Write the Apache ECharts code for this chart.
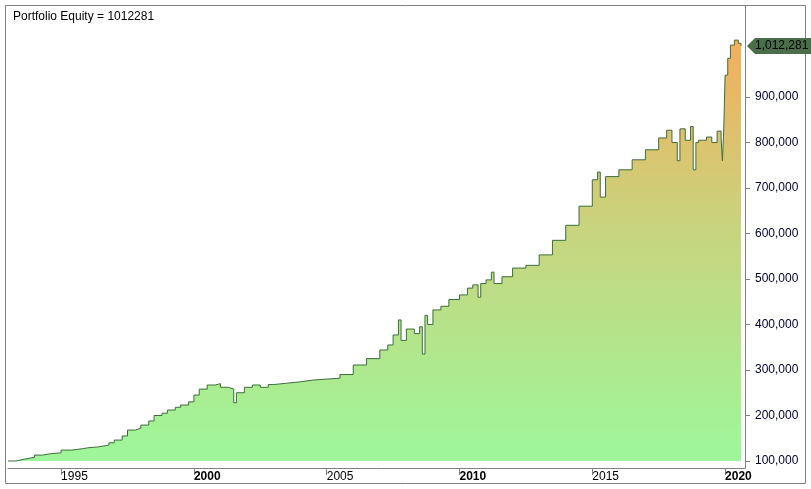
<!DOCTYPE html><html><head><meta charset="utf-8">
<script src="https://cdn.jsdelivr.net/npm/echarts@6/dist/echarts.min.js"></script>
<style>html,body{margin:0;padding:0;background:#fff}#c{width:811px;height:489px}</style></head><body><div id="c"></div>
<script>
const years = [1993.0,1993.3,1993.6,1994.0,1994.3,1994.6,1995.0,1995.4,1995.8,1996.0,1996.4,1996.8,1997.0,1997.3,1997.5,1997.8,1998.0,1998.3,1998.5,1998.8,1999.0,1999.3,1999.5,1999.8,2000.0,2000.2,2000.5,2000.8,2001.0,2001.3,2001.5,2001.6,2001.9,2002.2,2002.5,2002.8,2003.0,2003.5,2004.0,2004.5,2005.0,2005.5,2006.0,2006.5,2007.0,2007.3,2007.5,2007.7,2007.8,2008.0,2008.3,2008.5,2008.6,2008.7,2008.8,2009.0,2009.3,2009.6,2010.0,2010.3,2010.5,2010.7,2010.8,2011.0,2011.2,2011.3,2011.6,2012.0,2012.5,2013.0,2013.5,2014.0,2014.5,2015.0,2015.2,2015.3,2015.5,2016.0,2016.5,2017.0,2017.5,2017.8,2018.0,2018.2,2018.3,2018.5,2018.7,2018.8,2018.9,2019.0,2019.3,2019.5,2019.7,2019.85,2019.9,2019.95,2020.0,2020.1,2020.2,2020.35,2020.5,2020.6];
const equity = [100000,104000,108000,113000,116000,118000,124000,127000,129000,131000,135000,140000,146000,155000,168000,172000,179000,188000,200000,205000,212000,218000,223000,230000,245000,258000,267000,270000,262000,258000,228000,250000,262000,267000,262000,268000,271000,274000,278000,280000,282000,290000,311000,325000,344000,355000,377000,410000,365000,390000,380000,395000,335000,420000,400000,432000,440000,455000,465000,480000,487000,460000,490000,498000,515000,490000,505000,524000,530000,553000,585000,618000,660000,718000,735000,680000,725000,740000,762000,784000,810000,827000,800000,760000,830000,805000,835000,740000,800000,805000,812000,800000,825000,810000,760000,830000,948000,985000,1014000,1025000,1018000,1012281];
const yTicks = [100000,200000,300000,400000,500000,600000,700000,800000,900000];
const xTicks = [1995,2000,2005,2010,2015,2020];
const boldYears = [2000,2010,2020];
const title = 'Portfolio Equity = 1012281';
const lastVal = 1012281;

const chart = echarts.init(document.getElementById('c'));
chart.setOption({
  animation:false,
  textStyle:{fontFamily:'Liberation Sans, Arial'},
  title:{text:title,left:8,top:6,textStyle:{fontSize:12,fontWeight:'normal',color:'#000',fontFamily:'Liberation Sans'}},
  grid:{left:8,right:66,top:6,bottom:21},
  xAxis:{type:'value',min:1993,max:2020.75,
    axisLine:{show:true,lineStyle:{color:'#808080'}},splitLine:{show:false},
    axisTick:{show:true,customValues:xTicks,length:7,lineStyle:{color:'#808080'}},
    axisLabel:{customValues:xTicks,align:'left',margin:3,fontSize:12,color:'#000',
      formatter:v=>boldYears.includes(v)?'{b|'+v+'}':''+v,
      rich:{b:{fontWeight:'bold',fontSize:12,color:'#000'}}}},
  yAxis:{type:'value',position:'right',min:84600,max:1100000,
    axisLine:{show:true,lineStyle:{color:'#808080'}},splitLine:{show:false},
    axisTick:{show:true,customValues:yTicks,length:5,inside:false,lineStyle:{color:'#808080'}},
    axisLabel:{customValues:yTicks,margin:10,fontSize:12,color:'#000033',
      formatter:v=>v.toLocaleString('en-US')}},
  series:[{type:'line',step:'end',symbol:'none',
    data:years.map((y,i)=>[y,equity[i]]),
    lineStyle:{color:'#3c6e3c',width:1},
    areaStyle:{origin:100000,opacity:1,color:new echarts.graphic.LinearGradient(0,0,0,1,[{offset:0,color:'#f4ae5c'},{offset:0.45,color:'#c8d47e'},{offset:1,color:'#9df79a'}])}}]
});
const p = chart.convertToPixel({gridIndex:0},[2020.75,lastVal]);
chart.setOption({graphic:[
  {type:'rect',shape:{x:5.5,y:5.5,width:800,height:478},style:{fill:'none',stroke:'#808080',lineWidth:1},silent:true},
  {type:'polygon',shape:{points:[[p[0]+2,p[1]],[p[0]+10,p[1]-8],[p[0]+70,p[1]-8],[p[0]+70,p[1]+8],[p[0]+10,p[1]+8]]},style:{fill:'#4a6e4a'}},
  {type:'text',x:p[0]+10,y:p[1],style:{text:lastVal.toLocaleString('en-US'),fill:'#000',fontSize:12,verticalAlign:'middle',fontFamily:'Liberation Sans'}}
]});
</script></body></html>
